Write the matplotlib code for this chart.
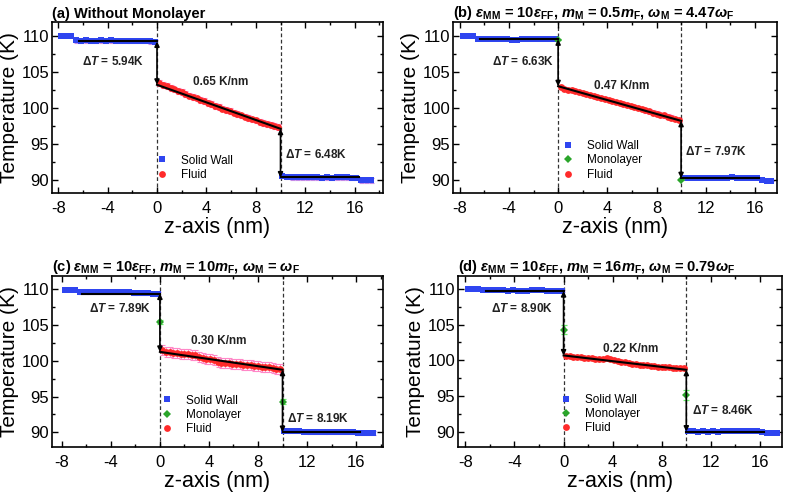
import numpy as np
import matplotlib
matplotlib.use("Agg")
import matplotlib.pyplot as plt
from matplotlib.ticker import MultipleLocator

plt.rcParams['font.family'] = ['Liberation Sans', 'DejaVu Sans']
plt.rcParams['mathtext.fontset'] = 'custom'
plt.rcParams['mathtext.rm'] = 'Liberation Sans:bold'
plt.rcParams['mathtext.it'] = 'Liberation Sans:italic:bold'
plt.rcParams['mathtext.bf'] = 'Liberation Sans:bold'
plt.rcParams['axes.unicode_minus'] = False

# %% data
wall_left_x = [-7.75, -7.35, -6.95, -6.55, -6.15, -5.75, -5.35, -4.95, -4.55, -4.15,
               -3.75, -3.35, -2.95, -2.55, -2.15, -1.75, -1.35, -0.95, -0.55, -0.15]
wall_right_x = [10.15, 10.55, 10.95, 11.35, 11.75, 12.15, 12.55, 12.95, 13.35, 13.75,
                14.15, 14.55, 14.95, 15.35, 15.75, 16.15, 16.55, 16.95, 17.35]
fluid_x = [0.2, 0.5, 0.8, 1.1, 1.4, 1.7, 2.0, 2.3, 2.6, 2.9, 3.2, 3.5, 3.8, 4.1, 4.4, 4.7,
           5.0, 5.3, 5.6, 5.9, 6.2, 6.5, 6.8, 7.1, 7.4, 7.7, 8.0, 8.3, 8.6, 8.9, 9.2, 9.5, 9.8]
mono_x = [0, 10]

# (a) without monolayer
a_left = [109.95, 109.95, 109.9, 109.35, 109.3, 109.35, 109.3, 109.3, 109.35, 109.3,
          109.35, 109.3, 109.3, 109.3, 109.25, 109.3, 109.3, 109.25, 109.2, 109.1]
a_right = [90.55, 90.4, 90.35, 90.35, 90.35, 90.35, 90.35, 90.35, 90.3, 90.35,
           90.3, 90.35, 90.35, 90.35, 90.3, 90.3, 89.95, 89.95, 89.95]
a_fluid = [103.45, 103.2, 103.0, 102.8, 102.55, 102.35, 102.15, 101.9, 101.7, 101.5, 101.3,
           101.1, 100.9, 100.7, 100.5, 100.3, 100.1, 99.9, 99.7, 99.55, 99.35, 99.15,
           98.95, 98.8, 98.6, 98.4, 98.25, 98.05, 97.9, 97.75, 97.6, 97.45, 97.35]
a_fit = [109.2, 103.2, 97.1, 90.35]   # left wall, fluid start, fluid end, right wall
a_err = [0.3, 0.4]                    # wall, fluid

# (b)
b_left = [109.95, 109.95, 109.9, 109.6, 109.6, 109.6, 109.6, 109.6, 109.6, 109.55,
          109.4, 109.45, 109.5, 109.55, 109.55, 109.6, 109.55, 109.55, 109.55, 109.5]
b_right = [90.3, 90.3, 90.25, 90.3, 90.25, 90.3, 90.3, 90.3, 90.3, 90.3,
           90.35, 90.3, 90.3, 90.25, 90.3, 90.25, 89.95, 89.9, 89.9]
b_fluid = [102.85, 102.6, 102.5, 102.45, 102.3, 102.2, 102.05, 101.95, 101.8, 101.65, 101.5,
           101.35, 101.2, 101.1, 100.95, 100.8, 100.65, 100.5, 100.4, 100.25, 100.1, 99.95,
           99.8, 99.65, 99.5, 99.35, 99.2, 99.05, 98.95, 98.8, 98.65, 98.5, 98.35]
b_mono = [109.45, 90.05]
b_mono_err = [0.1, 0.1]
b_fit = [109.5, 103.0, 98.2, 90.25]
b_err = [0.1, 0.3]

# (c)
c_left = [109.95, 109.95, 109.9, 109.55, 109.6, 109.55, 109.55, 109.6, 109.55, 109.6,
          109.65, 109.6, 109.6, 109.55, 109.5, 109.5, 109.45, 109.45, 109.4, 109.35]
c_right = [90.25, 90.2, 90.2, 90.15, 90.1, 90.05, 90.05, 90.05, 90.0, 90.05,
           90.0, 90.0, 90.0, 90.0, 90.0, 89.95, 89.9, 89.9, 89.9]
c_fluid = [101.45, 101.3, 101.2, 101.1, 101.05, 101.0, 100.95, 100.9, 100.85, 100.75, 100.6,
           100.45, 100.3, 100.2, 100.05, 99.9, 99.75, 99.7, 99.65, 99.6, 99.55, 99.5,
           99.45, 99.4, 99.35, 99.3, 99.25, 99.2, 99.15, 99.1, 99.0, 98.9, 98.85]
c_mono = [105.4, 94.3]
c_mono_err = [0.3, 0.3]
c_fit = [109.4, 101.25, 98.75, 90.05]
c_err = [0.25, 0.7]

# (d)
d_left = [109.95, 109.95, 109.9, 109.8, 109.75, 109.75, 109.75, 109.75, 109.7, 109.75,
          109.65, 109.65, 109.6, 109.75, 109.75, 109.75, 109.7, 109.7, 109.7, 109.65]
d_right = [90.25, 90.15, 90.1, 90.15, 90.1, 90.15, 90.1, 90.15, 90.15, 90.15,
           90.15, 90.15, 90.15, 90.15, 90.15, 90.1, 89.9, 89.9, 89.9]
d_fluid = [100.65, 100.6, 100.55, 100.5, 100.45, 100.4, 100.35, 100.3, 100.25, 100.2, 100.2,
           100.3, 100.25, 100.1, 99.95, 99.85, 99.75, 99.65, 99.55, 99.45, 99.4, 99.35,
           99.3, 99.25, 99.2, 99.15, 99.1, 99.1, 99.05, 99.0, 99.0, 98.95, 98.95]
d_mono = [104.3, 95.25]
d_mono_err = [0.6, 0.7]
d_fit = [109.65, 100.7, 98.7, 90.1]
d_err = [0.1, 0.2]

titles = [
    "(a) Without Monolayer",
    r"(b) $\varepsilon_{\mathrm{MM}}$ = 10$\varepsilon_{\mathrm{FF}}$, $m_{\mathrm{M}}$ = 0.5$m_{\mathrm{F}}$, $\omega_{\mathrm{M}}$ = 4.47$\omega_{\mathrm{F}}$",
    r"(c) $\varepsilon_{\mathrm{MM}}$ = 10$\varepsilon_{\mathrm{FF}}$, $m_{\mathrm{M}}$ = 10$m_{\mathrm{F}}$, $\omega_{\mathrm{M}}$ = $\omega_{\mathrm{F}}$",
    r"(d) $\varepsilon_{\mathrm{MM}}$ = 10$\varepsilon_{\mathrm{FF}}$, $m_{\mathrm{M}}$ = 16$m_{\mathrm{F}}$, $\omega_{\mathrm{M}}$ = 0.79$\omega_{\mathrm{F}}$",
]
dT_left = ["5.94", "6.63", "7.89", "8.90"]
dT_right = ["6.48", "7.97", "8.19", "8.46"]
grads = ["0.65", "0.47", "0.30", "0.22"]

# %% style
BLUE = '#2f45f0'
RED = '#ff2a2a'
GREEN = '#2aa52a'

fig = plt.figure(figsize=(7.87, 4.92), dpi=100)
axes = [
    fig.add_axes([0.0661, 0.6077, 0.4206, 0.3476]),
    fig.add_axes([0.5756, 0.6077, 0.4117, 0.3476]),
    fig.add_axes([0.0661, 0.0921, 0.4206, 0.3476]),
    fig.add_axes([0.5820, 0.0921, 0.4117, 0.3476]),
]
xlims = [(-8.5, 18.3), (-8.55, 17.8), (-8.8, 18.2), (-8.6, 17.8)]
ylims = [(88.2, 111.9), (88.2, 111.9), (88.0, 111.9), (88.0, 111.8)]
# text positions (data coords): dT left, gradient, dT right
text_pos = [
    [(-6.1, 106.4), (2.9, 103.6), (10.4, 93.6)],
    [(-5.4, 106.4), (2.9, 103.0), (10.35, 94.0)],
    [(-5.8, 107.3), (2.5, 102.8), (10.35, 92.0)],
    [(-5.9, 107.2), (3.2, 101.6), (10.45, 93.1)],
]
legend_anchor = [(0.314, 0.225), (0.337, 0.31), (0.33, 0.305), (0.314, 0.31)]

panels = [
    (a_left, a_right, a_fluid, None, None, a_fit, a_err),
    (b_left, b_right, b_fluid, b_mono, b_mono_err, b_fit, b_err),
    (c_left, c_right, c_fluid, c_mono, c_mono_err, c_fit, c_err),
    (d_left, d_right, d_fluid, d_mono, d_mono_err, d_fit, d_err),
]

for i, ax in enumerate(axes):
    left, right, fluid, mono, mono_err, fit, err = panels[i]

    # error bars first, markers on top
    ax.errorbar(wall_left_x[3:], left[3:], yerr=err[0], fmt='none', ecolor='#c48ae8',
                elinewidth=0.8, capsize=1.8, capthick=0.8, zorder=1)
    ax.errorbar(wall_right_x, right, yerr=err[0], fmt='none', ecolor='#c48ae8',
                elinewidth=0.8, capsize=1.8, capthick=0.8, zorder=1)
    ax.errorbar(fluid_x, fluid, yerr=err[1], fmt='none', ecolor='#ff88c8',
                elinewidth=0.8, capsize=1.8, capthick=0.8, zorder=1)

    h_wall, = ax.plot(wall_left_x, left, 's', color=BLUE, ms=3.9, mew=0, zorder=3,
                      label='Solid Wall')
    ax.plot(wall_right_x, right, 's', color=BLUE, ms=3.9, mew=0, zorder=3)
    h_fluid, = ax.plot(fluid_x, fluid, 'o', color=RED, ms=4.9, mew=0, zorder=2,
                       label='Fluid')
    handles = [h_wall, h_fluid]
    if mono is not None:
        ax.errorbar(mono_x, mono, yerr=mono_err, fmt='none', ecolor='#66ee66',
                    elinewidth=0.9, capsize=2.2, capthick=0.9, zorder=4)
        h_mono, = ax.plot(mono_x, mono, 'D', color=GREEN, ms=3.8, mew=0, zorder=5,
                          label='Monolayer')
        handles = [h_wall, h_mono, h_fluid]

    # fitted lines
    ax.plot([-6.35, 0], [fit[0], fit[0]], color='k', lw=1.5, zorder=6)
    ax.plot([0, 10], [fit[1], fit[2]], color='k', lw=1.5, zorder=6)
    ax.plot([10, 16.35], [fit[3], fit[3]], color='k', lw=1.5, zorder=6)
    arrow_kw = dict(arrowstyle='<|-|>', color='k', lw=1.2, mutation_scale=7,
                    shrinkA=0, shrinkB=0)
    ax.annotate('', xy=(0, fit[1]), xytext=(0, fit[0]), arrowprops=arrow_kw, zorder=7)
    ax.annotate('', xy=(10, fit[3]), xytext=(10, fit[2]), arrowprops=arrow_kw, zorder=7)

    # interfaces
    for xv in (0, 10):
        ax.axvline(xv, color='#333333', lw=0.9, ls=(0, (3, 2)), zorder=0)

    tp = text_pos[i]
    ax.text(tp[0][0], tp[0][1], r'$\Delta T$ = ' + dT_left[i] + 'K', fontsize=8.5,
            fontweight='bold', va='center', color='#222222')
    ax.text(tp[1][0], tp[1][1], grads[i] + ' K/nm', fontsize=8.5,
            fontweight='bold', va='center', color='#222222')
    ax.text(tp[2][0], tp[2][1], r'$\Delta T$ = ' + dT_right[i] + 'K', fontsize=8.5,
            fontweight='bold', va='center', color='#222222')

    ax.legend(handles=handles, loc='upper left', bbox_to_anchor=legend_anchor[i],
              frameon=False, fontsize=8.5, handlelength=1.0, handletextpad=1.1,
              labelspacing=0.2, borderpad=0, borderaxespad=0)

    ax.set_xlim(*xlims[i])
    ax.set_ylim(*ylims[i])
    ax.set_xticks([-8, -4, 0, 4, 8, 12, 16])
    ax.set_yticks([90, 95, 100, 105, 110])
    ax.xaxis.set_minor_locator(MultipleLocator(2))
    ax.yaxis.set_minor_locator(MultipleLocator(2.5))
    ax.tick_params(which='both', direction='in', top=True, right=True, width=1.0)
    ax.tick_params(which='major', length=4)
    ax.tick_params(which='minor', length=2)
    ax.tick_params(axis='x', labelsize=12, pad=6)
    ax.tick_params(axis='y', labelsize=12, pad=2)
    for sp in ax.spines.values():
        sp.set_linewidth(1.2)

    ax.set_xlabel('z-axis (nm)', fontsize=15.5, labelpad=0.5)
    ax.set_ylabel('Temperature (K)', fontsize=15, labelpad=2)
    ax.set_title(titles[i], loc='left', fontsize=10.5, fontweight='bold', pad=3)

fig.savefig('out.png', dpi=100)
